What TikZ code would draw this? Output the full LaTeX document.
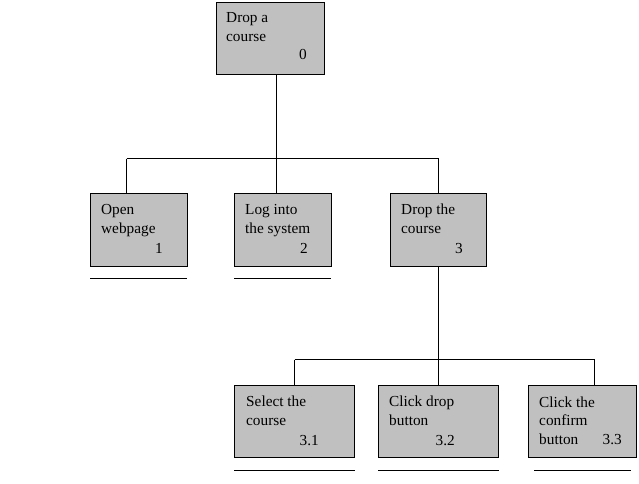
\documentclass[tikz,border=0pt]{standalone}
\usepackage{fontspec}
\setmainfont{Liberation Serif}
\begin{document}
\begin{tikzpicture}[x=1pt,y=-1pt,
  box/.style={draw=black,line width=1pt,fill=boxgray,inner sep=0,minimum width=#1},
  txt/.style={anchor=base west,inner sep=0,font=\fontsize{15.3}{17}\selectfont},
  num/.style={anchor=base east,inner sep=0,font=\fontsize{15.3}{17}\selectfont},
  conn/.style={draw=black,line width=1pt},
  uline/.style={draw=black,line width=1pt}]
\definecolor{boxgray}{RGB}{192,192,192}
\useasboundingbox (0,0) rectangle (639,483);
% boxes
\node[box=108pt,minimum height=72pt] (b0) at (270,38) {};
\node[box=97pt,minimum height=73pt] (b1) at (138.5,229.5) {};
\node[box=97pt,minimum height=73pt] (b2) at (282.5,229.5) {};
\node[box=96pt,minimum height=73pt] (b3) at (438,229.5) {};
\node[box=120pt,minimum height=72pt] (b31) at (294,421) {};
\node[box=120pt,minimum height=72pt] (b32) at (438,421) {};
\node[box=108pt,minimum height=72pt] (b33) at (582,421) {};
% texts
\node[txt] (t0a) at (226,22.7) {Drop a};
\node[txt] (t0b) at (226,41) {course};
\node[num] (t0n) at (307,59.5) {0};
\node[txt] (t1a) at (101,214) {Open};
\node[txt] (t1b) at (101,233) {webpage};
\node[num] (t1n) at (163,253) {1};
\node[txt] (t2a) at (245,214) {Log into};
\node[txt] (t2b) at (245,233) {the system};
\node[num] (t2n) at (308,253) {2};
\node[txt] (t3a) at (401,214) {Drop the};
\node[txt] (t3b) at (401,233) {course};
\node[num] (t3n) at (463,253) {3};
\node[txt] (t31a) at (246,406.5) {Select the};
\node[txt] (t31b) at (246,425) {course};
\node[num] (t31n) at (319,445) {3.1};
\node[txt] (t32a) at (389,406.5) {Click drop};
\node[txt] (t32b) at (389,425) {button};
\node[num] (t32n) at (455,445) {3.2};
\node[txt] (t33a) at (539,407) {Click the};
\node[txt] (t33b) at (539,425.5) {confirm};
\node[txt] (t33c) at (539,444) {button};
\node[num] (t33n) at (622,444) {3.3};
% connectors level 1
\coordinate (h1l) at (126.5,158.5);
\coordinate (h1m) at (276.5,158.5);
\coordinate (h1r) at (438.5,158.5);
\draw[conn] (h1m |- b0.south) -- (h1m);
\draw[conn] (h1l) -- (h1r);
\draw[conn] (h1l) -- (h1l |- b1.north);
\draw[conn] (h1m) -- (h1m |- b2.north);
\draw[conn] (h1r) -- (h1r |- b3.north);
% connectors level 2
\coordinate (h2l) at (294.5,359.5);
\coordinate (h2m) at (438.5,359.5);
\coordinate (h2r) at (594.5,359.5);
\draw[conn] (h2m |- b3.south) -- (h2m);
\draw[conn] (h2l) -- (h2r);
\draw[conn] (h2l) -- (h2l |- b31.north);
\draw[conn] (h2m) -- (h2m |- b32.north);
\draw[conn] (h2r) -- (h2r |- b33.north);
% underlines
\coordinate (u1a) at (90,278.5); \coordinate (u1b) at (187,278.5);
\coordinate (u2a) at (234,278.5); \coordinate (u2b) at (331,278.5);
\coordinate (u3a) at (234,470.5); \coordinate (u3b) at (355,470.5);
\coordinate (u4a) at (378,470.5); \coordinate (u4b) at (499,470.5);
\coordinate (u5a) at (534,470.5); \coordinate (u5b) at (631,470.5);
\draw[uline] (u1a) -- (u1b);
\draw[uline] (u2a) -- (u2b);
\draw[uline] (u3a) -- (u3b);
\draw[uline] (u4a) -- (u4b);
\draw[uline] (u5a) -- (u5b);
\end{tikzpicture}
\end{document}
